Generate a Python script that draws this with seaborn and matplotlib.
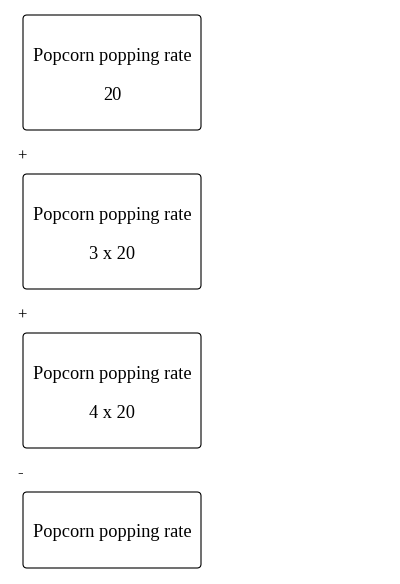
import matplotlib
matplotlib.use('Agg')
import matplotlib.pyplot as plt
import seaborn as sns
from matplotlib.patches import FancyBboxPatch

sns.set_theme(style='white')
plt.rcParams['font.family'] = ['Liberation Serif', 'DejaVu Serif']

# --- data ---
box_titles = ['Popcorn popping rate', 'Popcorn popping rate', 'Popcorn popping rate', 'Popcorn popping rate']
box_values = ['20', '3 x 20', '4 x 20', '']
operators = ['+', '+', '-']

# layout in pixel units
W, H = 400, 584
box_left, box_right = 23, 201
box_tops = [15, 174, 333, 492]
box_heights = [115, 115, 115, 76]

fig = plt.figure(figsize=(W / 100, H / 100), dpi=100)
ax = fig.add_axes([0, 0, 1, 1])
ax.set_xlim(0, W)
ax.set_ylim(H, 0)
ax.axis('off')

cx = (box_left + box_right) / 2
for i, (title, val) in enumerate(zip(box_titles, box_values)):
    top, h = box_tops[i], box_heights[i]
    box = FancyBboxPatch((box_left + 4, top + 4), box_right - box_left - 8, h - 8,
                         boxstyle='round,pad=4', fc='white', ec='black', lw=0.8)
    ax.add_patch(box)
    mid = top + h / 2
    if val:
        ax.text(cx, mid - 16, title, ha='center', va='center', fontsize=13.2, color='black')
        ax.text(cx, mid + 23, val, ha='center', va='center', fontsize=13.2, color='black')
    else:
        ax.text(cx, mid + 2.5, title, ha='center', va='center', fontsize=13.2, color='black')

for i, op in enumerate(operators):
    y = box_tops[i] + box_heights[i] + (27 if op == '+' else 25)
    ax.text(17, y, op, ha='left', va='center', fontsize=12, color='black')

fig.savefig('out.png', dpi=100)
